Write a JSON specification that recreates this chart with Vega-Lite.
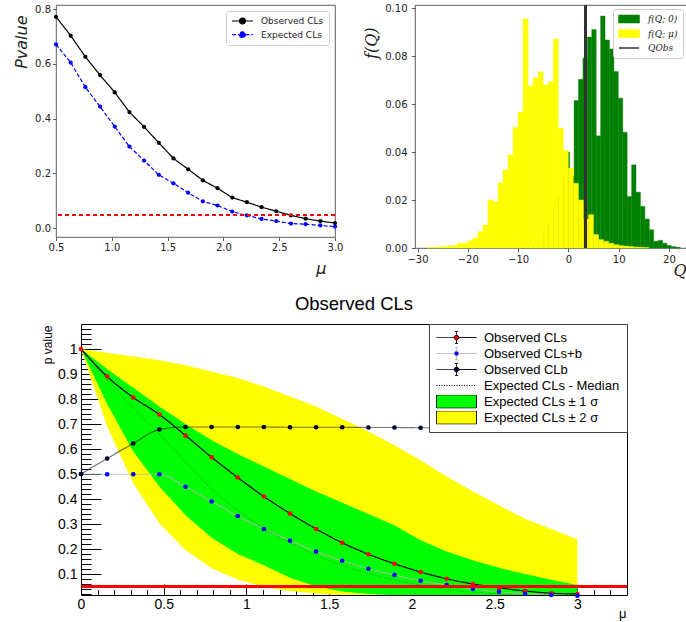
{
  "$schema": "https://vega.github.io/schema/vega-lite/v6.json",
  "background": "white",
  "padding": {"left": 12, "top": 2, "right": 0, "bottom": 0},
  "autosize": {"type": "pad"},
  "config": {"axis": {"grid": false}},
  "datasets": {
    "a": [
      {"mu": 0.5, "v": 0.772, "series": "Observed CLs"}, {"mu": 0.6316, "v": 0.703, "series": "Observed CLs"}, {"mu": 0.7632, "v": 0.626, "series": "Observed CLs"}, {"mu": 0.8947, "v": 0.559, "series": "Observed CLs"}, {"mu": 1.0263, "v": 0.496, "series": "Observed CLs"}, {"mu": 1.1579, "v": 0.424, "series": "Observed CLs"}, {"mu": 1.2895, "v": 0.37, "series": "Observed CLs"}, {"mu": 1.4211, "v": 0.312, "series": "Observed CLs"}, {"mu": 1.5526, "v": 0.255, "series": "Observed CLs"}, {"mu": 1.6842, "v": 0.215, "series": "Observed CLs"}, {"mu": 1.8158, "v": 0.175, "series": "Observed CLs"}, {"mu": 1.9474, "v": 0.146, "series": "Observed CLs"}, {"mu": 2.0789, "v": 0.112, "series": "Observed CLs"}, {"mu": 2.2105, "v": 0.095, "series": "Observed CLs"}, {"mu": 2.3421, "v": 0.077, "series": "Observed CLs"}, {"mu": 2.4737, "v": 0.062, "series": "Observed CLs"}, {"mu": 2.6053, "v": 0.047, "series": "Observed CLs"}, {"mu": 2.7368, "v": 0.035, "series": "Observed CLs"}, {"mu": 2.8684, "v": 0.026, "series": "Observed CLs"}, {"mu": 3.0, "v": 0.019, "series": "Observed CLs"},
      {"mu": 0.5, "v": 0.671, "series": "Expected CLs"}, {"mu": 0.6316, "v": 0.605, "series": "Expected CLs"}, {"mu": 0.7632, "v": 0.515, "series": "Expected CLs"}, {"mu": 0.8947, "v": 0.444, "series": "Expected CLs"}, {"mu": 1.0263, "v": 0.371, "series": "Expected CLs"}, {"mu": 1.1579, "v": 0.298, "series": "Expected CLs"}, {"mu": 1.2895, "v": 0.247, "series": "Expected CLs"}, {"mu": 1.4211, "v": 0.195, "series": "Expected CLs"}, {"mu": 1.5526, "v": 0.164, "series": "Expected CLs"}, {"mu": 1.6842, "v": 0.13, "series": "Expected CLs"}, {"mu": 1.8158, "v": 0.098, "series": "Expected CLs"}, {"mu": 1.9474, "v": 0.083, "series": "Expected CLs"}, {"mu": 2.0789, "v": 0.061, "series": "Expected CLs"}, {"mu": 2.2105, "v": 0.047, "series": "Expected CLs"}, {"mu": 2.3421, "v": 0.034, "series": "Expected CLs"}, {"mu": 2.4737, "v": 0.026, "series": "Expected CLs"}, {"mu": 2.6053, "v": 0.017, "series": "Expected CLs"}, {"mu": 2.7368, "v": 0.015, "series": "Expected CLs"}, {"mu": 2.8684, "v": 0.01, "series": "Expected CLs"}, {"mu": 3.0, "v": 0.006, "series": "Expected CLs"}
    ],
    "hist": [
      {"series": "f(Q; 0)", "q0": -9.42, "q1": -8.54, "f": 0.0003}, {"series": "f(Q; 0)", "q0": -8.54, "q1": -7.66, "f": 0.0006}, {"series": "f(Q; 0)", "q0": -7.66, "q1": -6.78, "f": 0.001}, {"series": "f(Q; 0)", "q0": -6.78, "q1": -5.9, "f": 0.002}, {"series": "f(Q; 0)", "q0": -5.9, "q1": -5.02, "f": 0.004}, {"series": "f(Q; 0)", "q0": -5.02, "q1": -4.14, "f": 0.006}, {"series": "f(Q; 0)", "q0": -4.14, "q1": -3.26, "f": 0.01}, {"series": "f(Q; 0)", "q0": -3.26, "q1": -2.38, "f": 0.015}, {"series": "f(Q; 0)", "q0": -2.38, "q1": -1.5, "f": 0.022}, {"series": "f(Q; 0)", "q0": -1.5, "q1": -0.62, "f": 0.03}, {"series": "f(Q; 0)", "q0": -0.62, "q1": 0.26, "f": 0.04}, {"series": "f(Q; 0)", "q0": 0.26, "q1": 1.14, "f": 0.03}, {"series": "f(Q; 0)", "q0": 1.14, "q1": 2.02, "f": 0.0615}, {"series": "f(Q; 0)", "q0": 2.02, "q1": 2.9, "f": 0.0704}, {"series": "f(Q; 0)", "q0": 2.9, "q1": 3.78, "f": 0.0792}, {"series": "f(Q; 0)", "q0": 3.78, "q1": 4.66, "f": 0.088}, {"series": "f(Q; 0)", "q0": 4.66, "q1": 5.54, "f": 0.0912}, {"series": "f(Q; 0)", "q0": 5.54, "q1": 6.42, "f": 0.0468}, {"series": "f(Q; 0)", "q0": 6.42, "q1": 7.3, "f": 0.0968}, {"series": "f(Q; 0)", "q0": 7.3, "q1": 8.18, "f": 0.0868}, {"series": "f(Q; 0)", "q0": 8.18, "q1": 9.06, "f": 0.083}, {"series": "f(Q; 0)", "q0": 9.06, "q1": 9.94, "f": 0.0736}, {"series": "f(Q; 0)", "q0": 9.94, "q1": 10.82, "f": 0.0625}, {"series": "f(Q; 0)", "q0": 10.82, "q1": 11.7, "f": 0.0483}, {"series": "f(Q; 0)", "q0": 11.7, "q1": 12.58, "f": 0.0215}, {"series": "f(Q; 0)", "q0": 12.58, "q1": 13.46, "f": 0.0347}, {"series": "f(Q; 0)", "q0": 13.46, "q1": 14.34, "f": 0.0233}, {"series": "f(Q; 0)", "q0": 14.34, "q1": 15.22, "f": 0.0174}, {"series": "f(Q; 0)", "q0": 15.22, "q1": 16.1, "f": 0.0121}, {"series": "f(Q; 0)", "q0": 16.1, "q1": 16.98, "f": 0.0076}, {"series": "f(Q; 0)", "q0": 16.98, "q1": 17.86, "f": 0.0028}, {"series": "f(Q; 0)", "q0": 17.86, "q1": 18.74, "f": 0.0032}, {"series": "f(Q; 0)", "q0": 18.74, "q1": 19.62, "f": 0.002}, {"series": "f(Q; 0)", "q0": 19.62, "q1": 20.5, "f": 0.001}, {"series": "f(Q; 0)", "q0": 20.5, "q1": 21.38, "f": 0.0006}, {"series": "f(Q; 0)", "q0": 21.38, "q1": 22.26, "f": 0.0003},
      {"series": "f(Q; μ)", "q0": -28, "q1": -27, "f": 0.0002}, {"series": "f(Q; μ)", "q0": -27, "q1": -26, "f": 0.0003}, {"series": "f(Q; μ)", "q0": -26, "q1": -25, "f": 0.0005}, {"series": "f(Q; μ)", "q0": -25, "q1": -24, "f": 0.0006}, {"series": "f(Q; μ)", "q0": -24, "q1": -23, "f": 0.001}, {"series": "f(Q; μ)", "q0": -23, "q1": -22, "f": 0.001}, {"series": "f(Q; μ)", "q0": -22, "q1": -21, "f": 0.002}, {"series": "f(Q; μ)", "q0": -21, "q1": -20, "f": 0.002}, {"series": "f(Q; μ)", "q0": -20, "q1": -19, "f": 0.003}, {"series": "f(Q; μ)", "q0": -19, "q1": -18, "f": 0.0042}, {"series": "f(Q; μ)", "q0": -18, "q1": -17, "f": 0.0068}, {"series": "f(Q; μ)", "q0": -17, "q1": -16, "f": 0.0096}, {"series": "f(Q; μ)", "q0": -16, "q1": -15, "f": 0.02}, {"series": "f(Q; μ)", "q0": -15, "q1": -14, "f": 0.0193}, {"series": "f(Q; μ)", "q0": -14, "q1": -13, "f": 0.0272}, {"series": "f(Q; μ)", "q0": -13, "q1": -12, "f": 0.0326}, {"series": "f(Q; μ)", "q0": -12, "q1": -11, "f": 0.0389}, {"series": "f(Q; μ)", "q0": -11, "q1": -10, "f": 0.0503}, {"series": "f(Q; μ)", "q0": -10, "q1": -9, "f": 0.0568}, {"series": "f(Q; μ)", "q0": -9, "q1": -8, "f": 0.0956}, {"series": "f(Q; μ)", "q0": -8, "q1": -7, "f": 0.0676}, {"series": "f(Q; μ)", "q0": -7, "q1": -6, "f": 0.071}, {"series": "f(Q; μ)", "q0": -6, "q1": -5, "f": 0.0735}, {"series": "f(Q; μ)", "q0": -5, "q1": -4, "f": 0.068}, {"series": "f(Q; μ)", "q0": -4, "q1": -3, "f": 0.0694}, {"series": "f(Q; μ)", "q0": -3, "q1": -2, "f": 0.0872}, {"series": "f(Q; μ)", "q0": -2, "q1": -1, "f": 0.05}, {"series": "f(Q; μ)", "q0": -1, "q1": 0, "f": 0.0407}, {"series": "f(Q; μ)", "q0": 0, "q1": 1, "f": 0.0333}, {"series": "f(Q; μ)", "q0": 1, "q1": 2, "f": 0.027}, {"series": "f(Q; μ)", "q0": 2, "q1": 3, "f": 0.02}, {"series": "f(Q; μ)", "q0": 3, "q1": 4, "f": 0.012}, {"series": "f(Q; μ)", "q0": 4, "q1": 5, "f": 0.0139}, {"series": "f(Q; μ)", "q0": 5, "q1": 6, "f": 0.0056}, {"series": "f(Q; μ)", "q0": 6, "q1": 7, "f": 0.0035}, {"series": "f(Q; μ)", "q0": 7, "q1": 8, "f": 0.0028}, {"series": "f(Q; μ)", "q0": 8, "q1": 9, "f": 0.002}, {"series": "f(Q; μ)", "q0": 9, "q1": 10, "f": 0.0014}, {"series": "f(Q; μ)", "q0": 10, "q1": 11, "f": 0.001}, {"series": "f(Q; μ)", "q0": 11, "q1": 12, "f": 0.0008}, {"series": "f(Q; μ)", "q0": 12, "q1": 13, "f": 0.0006}, {"series": "f(Q; μ)", "q0": 13, "q1": 14, "f": 0.0004}, {"series": "f(Q; μ)", "q0": 14, "q1": 15, "f": 0.0003}, {"series": "f(Q; μ)", "q0": 15, "q1": 16, "f": 0.0002}
    ],
    "c": [
      {"mu": 0, "v": 1.0, "series": "Observed CLs"}, {"mu": 0.1579, "v": 0.89, "series": "Observed CLs"}, {"mu": 0.3158, "v": 0.806, "series": "Observed CLs"}, {"mu": 0.4737, "v": 0.738, "series": "Observed CLs"}, {"mu": 0.6316, "v": 0.654, "series": "Observed CLs"}, {"mu": 0.7895, "v": 0.567, "series": "Observed CLs"}, {"mu": 0.9474, "v": 0.486, "series": "Observed CLs"}, {"mu": 1.1053, "v": 0.41, "series": "Observed CLs"}, {"mu": 1.2632, "v": 0.342, "series": "Observed CLs"}, {"mu": 1.4211, "v": 0.28, "series": "Observed CLs"}, {"mu": 1.5789, "v": 0.225, "series": "Observed CLs"}, {"mu": 1.7368, "v": 0.179, "series": "Observed CLs"}, {"mu": 1.8947, "v": 0.141, "series": "Observed CLs"}, {"mu": 2.0526, "v": 0.108, "series": "Observed CLs"}, {"mu": 2.2105, "v": 0.081, "series": "Observed CLs"}, {"mu": 2.3684, "v": 0.06, "series": "Observed CLs"}, {"mu": 2.5263, "v": 0.045, "series": "Observed CLs"}, {"mu": 2.6842, "v": 0.032, "series": "Observed CLs"}, {"mu": 2.8421, "v": 0.023, "series": "Observed CLs"}, {"mu": 3.0, "v": 0.02, "series": "Observed CLs"},
      {"mu": 0, "v": 0.5, "series": "Observed CLs+b"}, {"mu": 0.1579, "v": 0.499, "series": "Observed CLs+b"}, {"mu": 0.3158, "v": 0.499, "series": "Observed CLs+b"}, {"mu": 0.4737, "v": 0.499, "series": "Observed CLs+b"}, {"mu": 0.6316, "v": 0.449, "series": "Observed CLs+b"}, {"mu": 0.7895, "v": 0.39, "series": "Observed CLs+b"}, {"mu": 0.9474, "v": 0.332, "series": "Observed CLs+b"}, {"mu": 1.1053, "v": 0.28, "series": "Observed CLs+b"}, {"mu": 1.2632, "v": 0.233, "series": "Observed CLs+b"}, {"mu": 1.4211, "v": 0.19, "series": "Observed CLs+b"}, {"mu": 1.5789, "v": 0.153, "series": "Observed CLs+b"}, {"mu": 1.7368, "v": 0.121, "series": "Observed CLs+b"}, {"mu": 1.8947, "v": 0.096, "series": "Observed CLs+b"}, {"mu": 2.0526, "v": 0.073, "series": "Observed CLs+b"}, {"mu": 2.2105, "v": 0.056, "series": "Observed CLs+b"}, {"mu": 2.3684, "v": 0.04, "series": "Observed CLs+b"}, {"mu": 2.5263, "v": 0.029, "series": "Observed CLs+b"}, {"mu": 2.6842, "v": 0.021, "series": "Observed CLs+b"}, {"mu": 2.8421, "v": 0.016, "series": "Observed CLs+b"}, {"mu": 3.0, "v": 0.013, "series": "Observed CLs+b"},
      {"mu": 0, "v": 0.5, "series": "Observed CLb"}, {"mu": 0.1579, "v": 0.562, "series": "Observed CLb"}, {"mu": 0.3158, "v": 0.622, "series": "Observed CLb"}, {"mu": 0.4737, "v": 0.678, "series": "Observed CLb"}, {"mu": 0.6316, "v": 0.688, "series": "Observed CLb"}, {"mu": 0.7895, "v": 0.688, "series": "Observed CLb"}, {"mu": 0.9474, "v": 0.688, "series": "Observed CLb"}, {"mu": 1.1053, "v": 0.688, "series": "Observed CLb"}, {"mu": 1.2632, "v": 0.687, "series": "Observed CLb"}, {"mu": 1.4211, "v": 0.687, "series": "Observed CLb"}, {"mu": 1.5789, "v": 0.687, "series": "Observed CLb"}, {"mu": 1.7368, "v": 0.686, "series": "Observed CLb"}, {"mu": 1.8947, "v": 0.686, "series": "Observed CLb"}, {"mu": 2.0526, "v": 0.685, "series": "Observed CLb"}, {"mu": 2.2105, "v": 0.685, "series": "Observed CLb"}, {"mu": 2.3684, "v": 0.685, "series": "Observed CLb"}, {"mu": 2.5263, "v": 0.684, "series": "Observed CLb"}, {"mu": 2.6842, "v": 0.684, "series": "Observed CLb"}, {"mu": 2.8421, "v": 0.683, "series": "Observed CLb"}, {"mu": 3.0, "v": 0.683, "series": "Observed CLb"},
      {"mu": 0, "v": 1.0, "series": "Expected CLs - Median"}, {"mu": 0.1579, "v": 0.88, "series": "Expected CLs - Median"}, {"mu": 0.3158, "v": 0.765, "series": "Expected CLs - Median"}, {"mu": 0.4737, "v": 0.66, "series": "Expected CLs - Median"}, {"mu": 0.6316, "v": 0.55, "series": "Expected CLs - Median"}, {"mu": 0.7895, "v": 0.44, "series": "Expected CLs - Median"}, {"mu": 0.9474, "v": 0.355, "series": "Expected CLs - Median"}, {"mu": 1.1053, "v": 0.282, "series": "Expected CLs - Median"}, {"mu": 1.2632, "v": 0.225, "series": "Expected CLs - Median"}, {"mu": 1.4211, "v": 0.175, "series": "Expected CLs - Median"}, {"mu": 1.5789, "v": 0.135, "series": "Expected CLs - Median"}, {"mu": 1.7368, "v": 0.102, "series": "Expected CLs - Median"}, {"mu": 1.8947, "v": 0.076, "series": "Expected CLs - Median"}, {"mu": 2.0526, "v": 0.055, "series": "Expected CLs - Median"}, {"mu": 2.2105, "v": 0.038, "series": "Expected CLs - Median"}, {"mu": 2.3684, "v": 0.027, "series": "Expected CLs - Median"}, {"mu": 2.5263, "v": 0.019, "series": "Expected CLs - Median"}, {"mu": 2.6842, "v": 0.014, "series": "Expected CLs - Median"}, {"mu": 2.8421, "v": 0.01, "series": "Expected CLs - Median"}, {"mu": 3.0, "v": 0.008, "series": "Expected CLs - Median"}
    ],
    "bands": [
      {"mu": 0, "lo": 1.0, "hi": 1.0, "band": "Expected CLs ± 2 σ"}, {"mu": 0.1579, "lo": 0.69, "hi": 0.985, "band": "Expected CLs ± 2 σ"}, {"mu": 0.3158, "lo": 0.463, "hi": 0.97, "band": "Expected CLs ± 2 σ"}, {"mu": 0.4737, "lo": 0.303, "hi": 0.955, "band": "Expected CLs ± 2 σ"}, {"mu": 0.6316, "lo": 0.196, "hi": 0.935, "band": "Expected CLs ± 2 σ"}, {"mu": 0.7895, "lo": 0.123, "hi": 0.91, "band": "Expected CLs ± 2 σ"}, {"mu": 0.9474, "lo": 0.078, "hi": 0.884, "band": "Expected CLs ± 2 σ"}, {"mu": 1.1053, "lo": 0.048, "hi": 0.85, "band": "Expected CLs ± 2 σ"}, {"mu": 1.2632, "lo": 0.032, "hi": 0.81, "band": "Expected CLs ± 2 σ"}, {"mu": 1.4211, "lo": 0.022, "hi": 0.77, "band": "Expected CLs ± 2 σ"}, {"mu": 1.5789, "lo": 0.015, "hi": 0.72, "band": "Expected CLs ± 2 σ"}, {"mu": 1.7368, "lo": 0.011, "hi": 0.67, "band": "Expected CLs ± 2 σ"}, {"mu": 1.8947, "lo": 0.008, "hi": 0.615, "band": "Expected CLs ± 2 σ"}, {"mu": 2.0526, "lo": 0.006, "hi": 0.555, "band": "Expected CLs ± 2 σ"}, {"mu": 2.2105, "lo": 0.005, "hi": 0.49, "band": "Expected CLs ± 2 σ"}, {"mu": 2.3684, "lo": 0.004, "hi": 0.43, "band": "Expected CLs ± 2 σ"}, {"mu": 2.5263, "lo": 0.003, "hi": 0.375, "band": "Expected CLs ± 2 σ"}, {"mu": 2.6842, "lo": 0.003, "hi": 0.32, "band": "Expected CLs ± 2 σ"}, {"mu": 2.8421, "lo": 0.002, "hi": 0.28, "band": "Expected CLs ± 2 σ"}, {"mu": 3.0, "lo": 0.002, "hi": 0.239, "band": "Expected CLs ± 2 σ"},
      {"mu": 0, "lo": 1.0, "hi": 1.0, "band": "Expected CLs ± 1 σ"}, {"mu": 0.1579, "lo": 0.78, "hi": 0.92, "band": "Expected CLs ± 1 σ"}, {"mu": 0.3158, "lo": 0.59, "hi": 0.845, "band": "Expected CLs ± 1 σ"}, {"mu": 0.4737, "lo": 0.45, "hi": 0.77, "band": "Expected CLs ± 1 σ"}, {"mu": 0.6316, "lo": 0.335, "hi": 0.7, "band": "Expected CLs ± 1 σ"}, {"mu": 0.7895, "lo": 0.245, "hi": 0.635, "band": "Expected CLs ± 1 σ"}, {"mu": 0.9474, "lo": 0.18, "hi": 0.58, "band": "Expected CLs ± 1 σ"}, {"mu": 1.1053, "lo": 0.135, "hi": 0.53, "band": "Expected CLs ± 1 σ"}, {"mu": 1.2632, "lo": 0.085, "hi": 0.48, "band": "Expected CLs ± 1 σ"}, {"mu": 1.4211, "lo": 0.05, "hi": 0.43, "band": "Expected CLs ± 1 σ"}, {"mu": 1.5789, "lo": 0.03, "hi": 0.385, "band": "Expected CLs ± 1 σ"}, {"mu": 1.7368, "lo": 0.02, "hi": 0.34, "band": "Expected CLs ± 1 σ"}, {"mu": 1.8947, "lo": 0.015, "hi": 0.295, "band": "Expected CLs ± 1 σ"}, {"mu": 2.0526, "lo": 0.012, "hi": 0.235, "band": "Expected CLs ± 1 σ"}, {"mu": 2.2105, "lo": 0.01, "hi": 0.19, "band": "Expected CLs ± 1 σ"}, {"mu": 2.3684, "lo": 0.008, "hi": 0.155, "band": "Expected CLs ± 1 σ"}, {"mu": 2.5263, "lo": 0.007, "hi": 0.125, "band": "Expected CLs ± 1 σ"}, {"mu": 2.6842, "lo": 0.006, "hi": 0.1, "band": "Expected CLs ± 1 σ"}, {"mu": 2.8421, "lo": 0.005, "hi": 0.077, "band": "Expected CLs ± 1 σ"}, {"mu": 3.0, "lo": 0.004, "hi": 0.056, "band": "Expected CLs ± 1 σ"}
    ],
    "spacer": []
  },
  "spacing": 15,
  "resolve": {
    "scale": {"color": "independent", "fill": "independent", "stroke": "independent", "strokeDash": "independent", "strokeOpacity": "independent"},
    "legend": {"color": "independent", "fill": "independent", "stroke": "independent", "strokeDash": "independent", "strokeOpacity": "independent"}
  },
  "vconcat": [
    {
      "hconcat": [
        {
          "width": 279,
          "height": 232,
          "view": {"stroke": "#333", "strokeWidth": 0.8},
          "data": {"name": "a"},
          "layer": [
            {
              "mark": {"type": "line", "strokeWidth": 1.2},
              "encoding": {
                "x": {"field": "mu", "type": "quantitative", "scale": {"domain": [0.5, 3.0], "nice": false, "zero": false},
                  "axis": {"values": [0.5, 1.0, 1.5, 2.0, 2.5, 3.0], "format": ".1f", "domain": false, "tickSize": 3.5, "tickColor": "#333", "tickWidth": 0.8, "labelPadding": 1.5, "labelFont": "DejaVu Sans", "labelFontSize": 10, "labelColor": "#222", "labelFlush": false,
                    "title": "μ", "titleFont": "DejaVu Sans", "titleFontStyle": "italic", "titleFontWeight": "normal", "titleFontSize": 16, "titleColor": "#222", "titleX": 270, "titleY": 36, "titleAlign": "right", "titleBaseline": "alphabetic"}},
                "y": {"field": "v", "type": "quantitative", "scale": {"domain": [-0.032, 0.815], "nice": false, "zero": false},
                  "axis": {"values": [0, 0.1, 0.2, 0.3, 0.4, 0.5, 0.6, 0.7, 0.8], "format": ".1f", "domain": false, "tickSize": 3.5, "tickColor": "#333", "tickWidth": 0.8, "labelPadding": 2, "labelFont": "DejaVu Sans", "labelFontSize": 10, "labelColor": "#222",
                    "title": "Pvalue", "titleFont": "DejaVu Sans", "titleFontStyle": "italic", "titleFontWeight": "normal", "titleFontSize": 16, "titleColor": "#222", "titleX": -30, "titleY": 10, "titleAngle": -90, "titleAlign": "right", "titleBaseline": "alphabetic"}},
                "color": {"field": "series", "type": "nominal", "scale": {"domain": ["Observed CLs", "Expected CLs"], "range": ["black", "blue"]},
                  "legend": {"title": null, "orient": "top-right", "offset": 6, "padding": 5, "fillColor": "white", "strokeColor": "#ccc", "cornerRadius": 3, "symbolSize": 441, "clipHeight": 10, "labelFont": "DejaVu Sans", "labelFontSize": 9, "labelColor": "#222", "labelOffset": 7, "rowPadding": 3.7,
                    "encoding": {"symbols": {
                      "shape": {"value": "M-1,0H-0.28M0.28,0H1M-0.28,0A0.28,0.28,0,1,0,0.28,0A0.28,0.28,0,1,0,-0.28,0Z"},
                      "strokeDash": {"value": {"expr": "datum.value === 'Expected CLs' ? [3,1.5] : [1,0]"}},
                      "strokeWidth": {"value": 1.2},
                      "opacity": {"value": 1}
                    }}}},
                "strokeDash": {"field": "series", "type": "nominal", "scale": {"domain": ["Observed CLs", "Expected CLs"], "range": [[1, 0], [4, 2]]}, "legend": null}
              }
            },
            {
              "mark": {"type": "point", "filled": true, "size": 18, "opacity": 1},
              "encoding": {
                "x": {"field": "mu", "type": "quantitative"},
                "y": {"field": "v", "type": "quantitative"},
                "fill": {"field": "series", "type": "nominal", "scale": {"domain": ["Observed CLs", "Expected CLs"], "range": ["black", "blue"]}, "legend": null}
              }
            },
            {
              "mark": {"type": "rule", "color": "red", "strokeDash": [4, 3], "strokeWidth": 1.2},
              "encoding": {"y": {"datum": 0.05, "type": "quantitative"}}
            }
          ]
        },
        {
          "width": 272,
          "height": 243,
          "view": {"stroke": "#333", "strokeWidth": 0.8},
          "layer": [
            {
              "data": {"name": "hist"},
              "mark": {"type": "rect"},
              "encoding": {
                "x": {"field": "q0", "type": "quantitative", "scale": {"domain": [-30.5, 23.6], "nice": false, "zero": false},
                  "axis": {"values": [-30, -20, -10, 0, 10, 20], "labelExpr": "datum.value < 0 ? '−' + abs(datum.value) : '' + datum.value", "domain": false, "tickSize": 3.5, "tickColor": "#333", "tickWidth": 0.8, "labelPadding": 2.5, "labelFont": "DejaVu Sans", "labelFontSize": 10, "labelColor": "#222", "labelFlush": false,
                    "title": "Q", "titleFont": "DejaVu Serif", "titleFontStyle": "italic", "titleFontWeight": "normal", "titleFontSize": 16, "titleColor": "#222", "titleX": 271, "titleY": 27, "titleAlign": "right", "titleBaseline": "alphabetic"}},
                "x2": {"field": "q1"},
                "y": {"field": "f", "type": "quantitative", "scale": {"domain": [0, 0.1014], "nice": false, "zero": false},
                  "axis": {"values": [0, 0.02, 0.04, 0.06, 0.08, 0.1], "format": ".2f", "domain": false, "tickSize": 3.5, "tickColor": "#333", "tickWidth": 0.8, "labelPadding": 4.5, "labelFont": "DejaVu Sans", "labelFontSize": 10, "labelColor": "#222",
                    "title": "f(Q)", "titleFont": "DejaVu Serif", "titleFontStyle": "italic", "titleFontWeight": "normal", "titleFontSize": 16, "titleColor": "#222", "titleX": -39, "titleY": 22, "titleAngle": -90, "titleAlign": "right", "titleBaseline": "alphabetic"}},
                "y2": {"datum": 0},
                "fill": {"field": "series", "type": "nominal", "scale": {"domain": ["f(Q; 0)", "f(Q; μ)", "QObs"], "range": ["green", "yellow", "#333"]},
                  "legend": {"title": null, "orient": "top-right", "offset": 4, "padding": 5, "fillColor": "white", "strokeColor": "#ccc", "cornerRadius": 3, "symbolSize": 400, "clipHeight": 10, "labelFont": "DejaVu Serif", "labelFontStyle": "italic", "labelFontSize": 9, "labelColor": "#222", "labelOffset": 8, "rowPadding": 4.5,
                    "encoding": {"symbols": {
                      "shape": {"value": {"expr": "datum.value === 'QObs' ? 'M-1,0H1' : 'M-1,-0.35H1V0.35H-1Z'"}},
                      "strokeWidth": {"value": 1.5},
                      "opacity": {"value": 1}
                    }}}},
                "stroke": {"field": "series", "type": "nominal", "scale": {"domain": ["f(Q; 0)", "f(Q; μ)", "QObs"], "range": ["green", "yellow", "#333"]}, "legend": null},
                "strokeWidth": {"value": 0.4}
              }
            },
            {
              "data": {"name": "hist"},
              "mark": {"type": "rule", "color": "#333", "strokeWidth": 1.5},
              "encoding": {"x": {"datum": 3.4, "type": "quantitative"}}
            }
          ]
        }
      ],
      "spacing": 80,
      "bounds": "flush",
      "resolve": {
        "scale": {"color": "independent", "fill": "independent", "stroke": "independent", "strokeDash": "independent", "strokeOpacity": "independent"},
        "legend": {"color": "independent", "fill": "independent", "stroke": "independent", "strokeDash": "independent", "strokeOpacity": "independent"}
      }
    },
    {
      "hconcat": [
        {
          "width": 25,
          "height": 10,
          "view": {"stroke": null},
          "data": {"name": "spacer"},
          "mark": "point"
        },
        {
          "width": 546,
          "height": 271,
          "view": {"stroke": "black", "strokeWidth": 1},
          "title": {"text": "Observed CLs", "font": "Liberation Sans", "fontSize": 18.5, "fontWeight": "normal", "color": "black", "offset": 10, "anchor": "middle"},
          "resolve": {"axis": {"x": "independent", "y": "independent"}},
          "layer": [
            {
              "data": {"name": "bands"},
              "transform": [{"filter": "datum.band === 'Expected CLs ± 2 σ'"}],
              "mark": {"type": "area", "clip": true, "opacity": 1},
              "encoding": {
                "x": {"field": "mu", "type": "quantitative", "scale": {"domain": [0, 3.3], "nice": false, "zero": false},
                  "axis": {"orient": "bottom", "values": [0, 0.5, 1, 1.5, 2, 2.5, 3], "format": "~g", "ticks": false, "domain": false, "labelPadding": 2, "labelFont": "Liberation Sans", "labelFontSize": 14, "labelColor": "black", "labelFlush": false,
                    "title": "μ", "titleFont": "Liberation Sans", "titleFontSize": 13, "titleFontWeight": "normal", "titleColor": "black", "titleX": 545, "titleY": 22, "titleAlign": "right", "titleBaseline": "alphabetic"}},
                "y": {"field": "lo", "type": "quantitative", "stack": null, "scale": {"domain": [0.016, 1.1], "nice": false, "zero": false},
                  "axis": {"orient": "left", "values": [0.1, 0.2, 0.3, 0.4, 0.5, 0.6, 0.7, 0.8, 0.9, 1], "format": "~g", "ticks": false, "domain": false, "labelPadding": 4, "labelFont": "Liberation Sans", "labelFontSize": 14, "labelColor": "black",
                    "title": "p value", "titleFont": "Liberation Sans", "titleFontSize": 12, "titleFontWeight": "normal", "titleColor": "black", "titleX": -30, "titleY": 1, "titleAngle": -90, "titleAlign": "right", "titleBaseline": "alphabetic"}},
                "y2": {"field": "hi"},
                "fill": {"field": "band", "type": "nominal",
                  "scale": {"domain": ["Observed CLs", "Observed CLs+b", "Observed CLb", "Expected CLs - Median", "Expected CLs ± 1 σ", "Expected CLs ± 2 σ"], "range": ["#ff0000", "#0000ff", "#000033", "transparent", "#00ff00", "#ffff00"]},
                  "legend": {"title": null, "orient": "top-right", "offset": 0, "padding": 7, "fillColor": "white", "strokeColor": "#444", "symbolSize": 1600, "clipHeight": 13, "labelFont": "Liberation Sans", "labelFontSize": 13, "labelColor": "black", "labelOffset": 7, "labelLimit": 400, "rowPadding": 2,
                    "values": ["Observed CLs", "Observed CLs+b", "Observed CLb", "Expected CLs - Median", "Expected CLs ± 1 σ", "Expected CLs ± 2 σ"],
                    "encoding": {"symbols": {
                      "shape": {"value": {"expr": "datum.value === 'Expected CLs - Median' ? 'M-1,0H1' : (indexof(datum.value, 'σ') >= 0 ? 'M-1,-0.33H1V0.33H-1Z' : 'M-1,0H-0.12M0.12,0H1M0,-0.3V-0.12M0,0.12V0.3M-0.07,-0.3H0.07M-0.07,0.3H0.07M-0.12,0A0.12,0.12,0,1,0,0.12,0A0.12,0.12,0,1,0,-0.12,0Z')"}},
                      "strokeDash": {"value": {"expr": "datum.value === 'Expected CLs - Median' ? [1,1.5] : [1,0]"}},
                      "strokeWidth": {"value": 1},
                      "opacity": {"value": 1}
                    }}}}
              }
            },
            {
              "data": {"name": "bands"},
              "transform": [{"filter": "datum.band === 'Expected CLs ± 1 σ'"}],
              "mark": {"type": "area", "clip": true, "opacity": 1},
              "encoding": {
                "x": {"field": "mu", "type": "quantitative", "axis": null},
                "y": {"field": "lo", "type": "quantitative", "stack": null, "axis": null},
                "y2": {"field": "hi"},
                "fill": {"field": "band", "type": "nominal", "legend": null}
              }
            },
            {
              "data": {"name": "c"},
              "mark": {"type": "line", "strokeWidth": 1.2, "interpolate": "monotone", "clip": true},
              "encoding": {
                "x": {"field": "mu", "type": "quantitative",
                  "axis": {"orient": "bottom", "values": [0, 0.5, 1, 1.5, 2, 2.5, 3], "labels": false, "domain": false, "tickSize": -11, "tickColor": "black", "tickWidth": 1, "title": null}},
                "y": {"field": "v", "type": "quantitative",
                  "axis": {"orient": "left", "values": [0.1, 0.2, 0.3, 0.4, 0.5, 0.6, 0.7, 0.8, 0.9, 1], "labels": false, "domain": false, "tickSize": -20, "tickColor": "black", "tickWidth": 1, "title": null}},
                "stroke": {"field": "series", "type": "nominal",
                  "scale": {"domain": ["Observed CLs", "Observed CLs+b", "Observed CLb", "Expected CLs - Median", "Expected CLs ± 1 σ", "Expected CLs ± 2 σ"], "range": ["black", "#b3b3b3", "black", "black", "black", "black"]},
                  "legend": {"title": null, "orient": "top-right", "offset": 0, "padding": 7, "fillColor": "white", "strokeColor": "#444", "symbolSize": 1600, "clipHeight": 13, "labelFont": "Liberation Sans", "labelFontSize": 13, "labelColor": "black", "labelOffset": 7, "labelLimit": 400, "rowPadding": 2,
                    "values": ["Observed CLs", "Observed CLs+b", "Observed CLb", "Expected CLs - Median", "Expected CLs ± 1 σ", "Expected CLs ± 2 σ"],
                    "encoding": {"symbols": {
                      "shape": {"value": {"expr": "datum.value === 'Expected CLs - Median' ? 'M-1,0H1' : (indexof(datum.value, 'σ') >= 0 ? 'M-1,-0.33H1V0.33H-1Z' : 'M-1,0H-0.12M0.12,0H1M0,-0.3V-0.12M0,0.12V0.3M-0.07,-0.3H0.07M-0.07,0.3H0.07M-0.12,0A0.12,0.12,0,1,0,0.12,0A0.12,0.12,0,1,0,-0.12,0Z')"}},
                      "strokeDash": {"value": {"expr": "datum.value === 'Expected CLs - Median' ? [1,1.5] : [1,0]"}},
                      "strokeWidth": {"value": 1},
                      "opacity": {"value": 1}
                    }}}},
                "strokeDash": {"field": "series", "type": "nominal", "scale": {"domain": ["Observed CLs", "Observed CLs+b", "Observed CLb", "Expected CLs - Median"], "range": [[1, 0], [1, 0], [1, 0], [1, 1.5]]}, "legend": null},
                "strokeOpacity": {"field": "series", "type": "nominal", "scale": {"domain": ["Observed CLs", "Observed CLs+b", "Observed CLb", "Expected CLs - Median"], "range": [1, 0.3, 1, 1]}, "legend": null}
              }
            },
            {
              "data": {"name": "c"},
              "transform": [{"filter": "datum.series !== 'Expected CLs - Median'"}],
              "mark": {"type": "point", "filled": true, "size": 22, "opacity": 1},
              "encoding": {
                "x": {"field": "mu", "type": "quantitative",
                  "axis": {"orient": "bottom", "values": [0.1, 0.2, 0.3, 0.4, 0.6, 0.7, 0.8, 0.9, 1.1, 1.2, 1.3, 1.4, 1.6, 1.7, 1.8, 1.9, 2.1, 2.2, 2.3, 2.4, 2.6, 2.7, 2.8, 2.9, 3.1, 3.2], "labels": false, "domain": false, "tickSize": -5.5, "tickColor": "black", "tickWidth": 1, "title": null}},
                "y": {"field": "v", "type": "quantitative",
                  "axis": {"orient": "left", "values": [0.02, 0.04, 0.06, 0.08, 0.12, 0.14, 0.16, 0.18, 0.22, 0.24, 0.26, 0.28, 0.32, 0.34, 0.36, 0.38, 0.42, 0.44, 0.46, 0.48, 0.52, 0.54, 0.56, 0.58, 0.62, 0.64, 0.66, 0.68, 0.72, 0.74, 0.76, 0.78, 0.82, 0.84, 0.86, 0.88, 0.92, 0.94, 0.96, 0.98, 1.02, 1.04, 1.06, 1.08], "labels": false, "domain": false, "tickSize": -10, "tickColor": "black", "tickWidth": 1, "title": null}},
                "fill": {"field": "series", "type": "nominal", "legend": null}
              }
            },
            {
              "data": {"name": "c"},
              "mark": {"type": "rule", "color": "#ff0000", "strokeOpacity": 0.5, "strokeWidth": 1.8},
              "encoding": {"y": {"datum": 0.05, "type": "quantitative", "axis": null}}
            }
          ]
        }
      ],
      "spacing": 0,
      "bounds": "flush",
      "resolve": {
        "scale": {"color": "independent", "fill": "independent", "stroke": "independent", "strokeDash": "independent", "strokeOpacity": "independent"},
        "legend": {"color": "independent", "fill": "independent", "stroke": "independent", "strokeDash": "independent", "strokeOpacity": "independent"}
      }
    }
  ]
}
